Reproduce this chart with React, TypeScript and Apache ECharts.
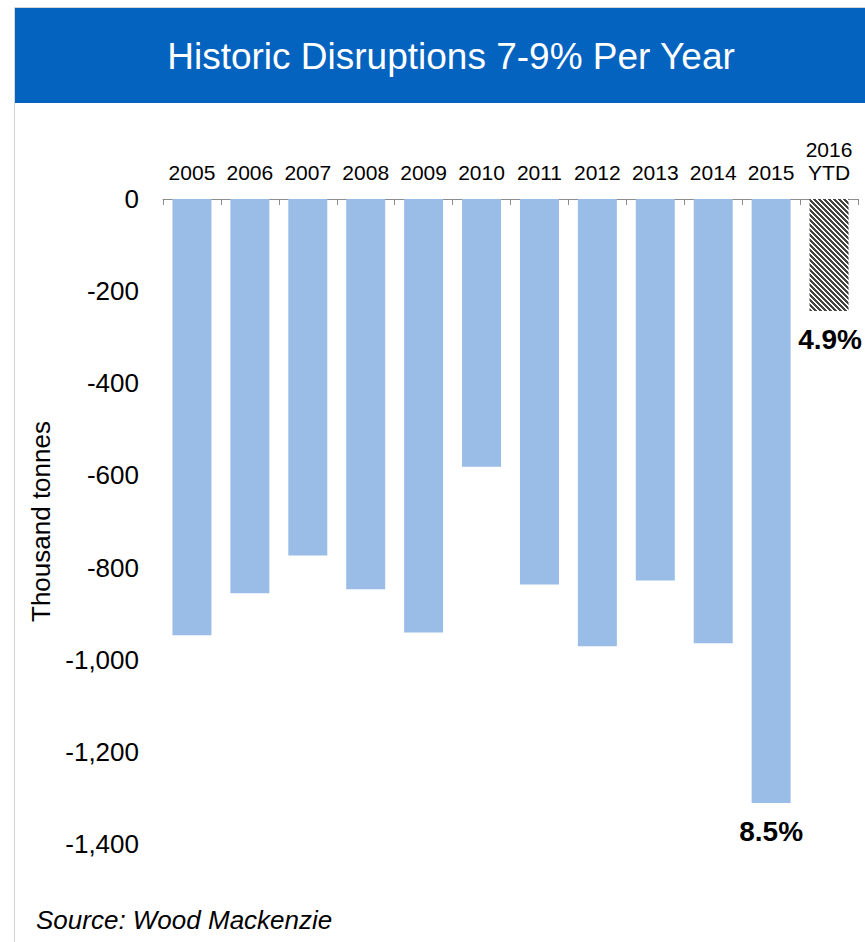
import React, { useEffect, useRef } from "react";
import * as echarts from "echarts";

const categories = ["2005", "2006", "2007", "2008", "2009", "2010", "2011", "2012", "2013", "2014", "2015", "2016\nYTD"];
const disruptions = [-947, -856, -774, -847, -941, -581, -837, -971, -828, -964, -1311, -243];
const pctLabels = ["", "", "", "", "", "", "", "", "", "", "8.5%", "4.9%"];
const yTicks = { min: -1400, max: 0, interval: 200 };
const titleText = "Historic Disruptions 7-9% Per Year";
const sourceText = "Source: Wood Mackenzie";
const yAxisName = "Thousand tonnes";

const FONT = "'Liberation Sans', Arial, Helvetica, sans-serif";

function hatchPattern() {
  const svg =
    "<svg xmlns='http://www.w3.org/2000/svg' width='5' height='5' shape-rendering='crispEdges'>" +
    "<rect width='5' height='5' fill='#ffffff'/>" +
    "<path d='M-1,-1 L6,6 M-1,4 L1,6 M4,-1 L6,1' stroke='#45453f' stroke-width='2.1'/>" +
    "</svg>";
  return {
    image: "data:image/svg+xml;charset=utf-8," + encodeURIComponent(svg),
    repeat: "repeat",
    imageWidth: 5,
    imageHeight: 5,
  } as any;
}

export default function App() {
  const ref = useRef<HTMLDivElement>(null);
  useEffect(() => {
    if (!ref.current) return;
    const chart = echarts.init(ref.current, null, { renderer: "svg" });
    const lastIdx = categories.length - 1;
    const data = disruptions.map((v, i) => {
      const item: any = { value: v };
      if (i === lastIdx) {
        item.itemStyle = { color: hatchPattern() };
      }
      if (pctLabels[i]) {
        item.label = {
          show: true,
          position: "bottom",
          distance: 15,
          formatter: pctLabels[i],
          fontSize: 28,
          fontWeight: "bold",
          color: "#000",
          fontFamily: FONT,
          lineHeight: 28,
          offset: i === lastIdx ? [1, 0] : [0, 0],
        };
      }
      return item;
    });
    chart.setOption({
      animation: false,
      backgroundColor: "#ffffff",
      textStyle: { fontFamily: FONT },
      graphic: [
        {
          type: "rect",
          shape: { x: 14.5, y: 7.5, width: 900, height: 1000 },
          style: { fill: "none", stroke: "#d4d4d4", lineWidth: 1 },
          silent: true,
        },
        {
          type: "rect",
          shape: { x: 15, y: 8, width: 850, height: 95 },
          style: { fill: "#0563c0" },
          silent: true,
        },
        {
          type: "text",
          x: 451,
          y: 56,
          style: {
            text: titleText,
            fill: "#ffffff",
            fontSize: 37,
            fontFamily: FONT,
            textAlign: "center",
            textVerticalAlign: "middle",
          },
          silent: true,
        },
        {
          type: "text",
          x: 36,
          y: 920,
          style: {
            text: sourceText,
            fill: "#000000",
            fontSize: 26,
            fontStyle: "italic",
            fontFamily: FONT,
            textAlign: "left",
            textVerticalAlign: "middle",
          },
          silent: true,
        },
      ],
      grid: { left: 163, right: 7, top: 199, bottom: 98, containLabel: false },
      xAxis: {
        type: "category",
        position: "top",
        data: categories,
        axisLine: { show: true, lineStyle: { color: "#8c8c8c", width: 1 } },
        axisTick: { show: true, inside: true, length: 6, lineStyle: { color: "#8c8c8c" } },
        axisLabel: {
          fontSize: 21,
          lineHeight: 23,
          color: "#000",
          margin: 15,
          fontFamily: FONT,
          interval: 0,
        },
        splitLine: { show: false },
      },
      yAxis: {
        type: "value",
        min: yTicks.min,
        max: yTicks.max,
        interval: yTicks.interval,
        axisLine: { show: false },
        axisTick: { show: false },
        splitLine: { show: false },
        axisLabel: {
          fontSize: 26,
          color: "#000",
          margin: 24,
          fontFamily: FONT,
          formatter: (v: number) => v.toLocaleString("en-US"),
        },
        name: yAxisName,
        nameLocation: "middle",
        nameRotate: 90,
        nameGap: 107,
        nameTextStyle: { fontSize: 26, color: "#000", fontFamily: FONT },
      },
      series: [
        {
          type: "bar",
          data,
          barWidth: 39,
          itemStyle: { color: "#9abde8" },
          label: { show: false },
        },
      ],
    });
    return () => chart.dispose();
  }, []);
  return (
    <div
      ref={ref}
      style={{ position: "absolute", left: 0, top: 0, width: 865, height: 942, background: "#fff" }}
    />
  );
}
